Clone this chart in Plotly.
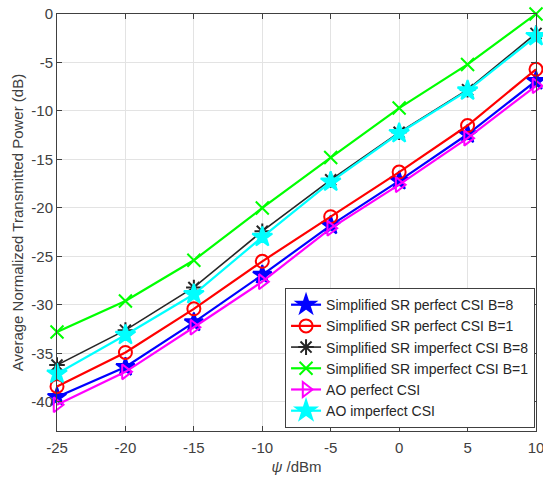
import plotly.graph_objects as go

psi = [-25, -20, -15, -10, -5, 0, 5, 10]

sr_perfect_b8 = [-39.5, -36.4, -31.8, -26.9, -21.8, -17.2, -12.4, -6.9]
sr_perfect_b1 = [-38.4, -34.9, -30.4, -25.5, -20.9, -16.3, -11.5, -5.7]
sr_imperfect_b8 = [-36.2, -32.6, -28.2, -22.4, -17.1, -12.2, -7.8, -2.0]
sr_imperfect_b1 = [-32.8, -29.6, -25.4, -20.0, -14.8, -9.7, -5.2, 0.0]
ao_perfect = [-40.3, -36.9, -32.3, -27.6, -22.1, -17.6, -12.8, -7.4]
ao_imperfect = [-37.1, -33.1, -28.9, -23.0, -17.3, -12.3, -7.9, -2.3]

x_ticks = [-25, -20, -15, -10, -5, 0, 5, 10]
x_tick_labels = ["-25", "-20", "-15", "-10", "-5", "0", "5", "10"]
y_ticks = [0, -5, -10, -15, -20, -25, -30, -35, -40]
y_tick_labels = ["0", "-5", "-10", "-15", "-20", "-25", "-30", "-35", "-40"]

series = [
    ("Simplified SR perfect CSI B=8", sr_perfect_b8, "#0000FF", "star", 14, 2.2),
    ("Simplified SR perfect CSI B=1", sr_perfect_b1, "#FF0000", "circle-open", 13, 2.2),
    ("Simplified SR imperfect CSI B=8", sr_imperfect_b8, "#262626", "asterisk-open", 13, 1.6),
    ("Simplified SR imperfect CSI B=1", sr_imperfect_b1, "#00FF00", "x-thin-open", 13, 2.2),
    ("AO perfect CSI", ao_perfect, "#FF00FF", "triangle-right-open", 13, 2.2),
    ("AO imperfect CSI", ao_imperfect, "#00FFFF", "star", 15, 2.2),
]

fig = go.Figure()
for name, vals, color, sym, size, lw in series:
    fig.add_trace(go.Scatter(
        x=psi, y=vals, name=name, mode="lines+markers",
        line=dict(color=color, width=lw),
        marker=dict(symbol=sym, size=size, color=color,
                    line=dict(color=color, width=2)),
        cliponaxis=False,
    ))

axis_common = dict(
    showgrid=True, gridcolor="#E3E3E3", gridwidth=1,
    showline=True, linecolor="#404040", linewidth=1, mirror="ticks",
    ticks="inside", ticklen=5, tickcolor="#404040",
    tickfont=dict(size=15, color="#404040"),
    ticklabeloverflow="allow",
    automargin=False,
    zeroline=False,
)

fig.update_layout(
    width=543, height=480,
    margin=dict(l=57, r=7, t=14, b=49),
    paper_bgcolor="white", plot_bgcolor="white",
    font=dict(family="Arial, Liberation Sans, sans-serif", color="#404040"),
    xaxis=dict(range=[-25, 10], tickvals=x_ticks, ticktext=x_tick_labels,
               ticklabelstandoff=3,
               title=dict(text="<i>ψ</i> /dBm", font=dict(size=15, color="#404040"), standoff=6),
               **axis_common),
    yaxis=dict(range=[-43, 0], tickvals=y_ticks, ticktext=y_tick_labels,
               title=dict(text="Average Normalized Transmitted Power (dB)", font=dict(size=15, color="#404040"), standoff=4),
               **axis_common),
    legend=dict(x=0.998, y=0.007, xanchor="right", yanchor="bottom",
                bgcolor="white", bordercolor="#404040", borderwidth=1,
                font=dict(size=14, color="#262626"), tracegroupgap=0,
                itemwidth=30),
    showlegend=True,
)

fig.write_html("out.html")
